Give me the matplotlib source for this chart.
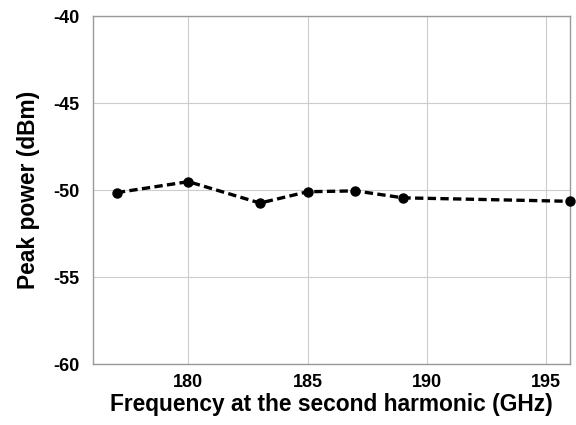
import matplotlib
matplotlib.use("Agg")
import matplotlib.pyplot as plt

plt.rcParams["font.family"] = ["Liberation Sans", "DejaVu Sans"]
plt.rcParams["font.weight"] = "bold"
plt.rcParams["axes.unicode_minus"] = False

freq = [177, 180, 183, 185, 187, 189, 196]
peak_power = [-50.15, -49.52, -50.75, -50.1, -50.05, -50.45, -50.65]

fig = plt.figure(figsize=(5.76, 4.25), dpi=100)
ax = fig.add_axes([93 / 576, 1 - 364 / 425, 477 / 576, 348 / 425])

ax.plot(freq, peak_power, "k--", marker="o", markersize=6.5, linewidth=2.4,
        dashes=(2.5, 1.3), clip_on=False, zorder=3)

ax.set_xlim(176, 196)
ax.set_ylim(-60, -40)
ax.set_xticks([180, 185, 190, 195])
ax.set_yticks([-60, -55, -50, -45, -40])
ax.grid(True, color="#cccccc", linewidth=0.8)
ax.tick_params(length=0, labelsize=13)
ax.tick_params(axis="y", pad=10)
ax.tick_params(axis="x", pad=7)
for s in ax.spines.values():
    s.set_color("#999999")
    s.set_linewidth(1.0)

ax.set_xlabel("Frequency at the second harmonic (GHz)", fontsize=16.4,
              fontweight="bold", labelpad=2)
ax.set_ylabel("Peak power (dBm)", fontsize=16.4, fontweight="bold", labelpad=9)

fig.savefig("out.png", dpi=100)
